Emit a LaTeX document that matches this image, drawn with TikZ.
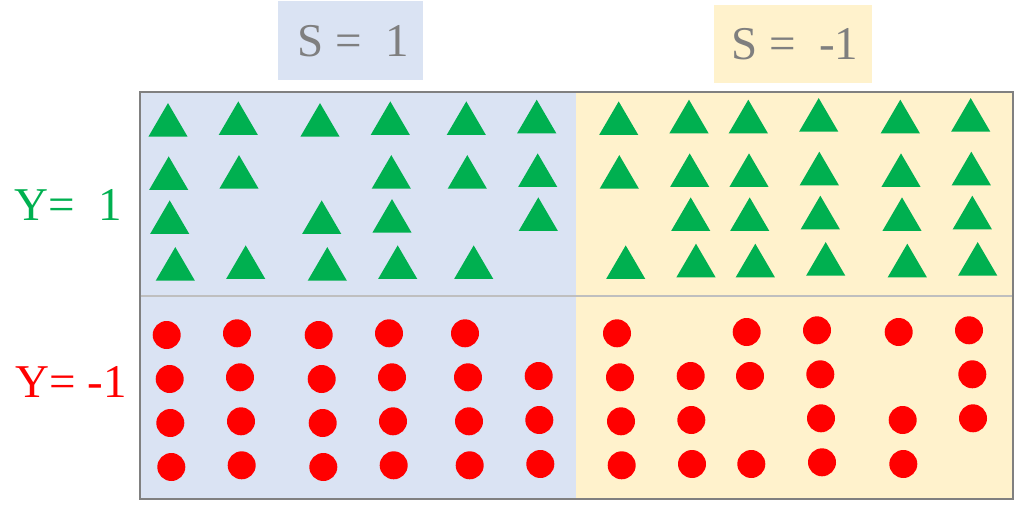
\documentclass[tikz,border=0pt]{standalone}
\usepackage{fontspec}
\setmainfont{Liberation Serif}
\definecolor{bluebg}{HTML}{DAE3F3}
\definecolor{yellowbg}{HTML}{FFF2CC}
\definecolor{tri}{HTML}{00B050}
\definecolor{dot}{HTML}{FF0000}
\definecolor{frame}{HTML}{808080}
\definecolor{divider}{HTML}{BFBFBF}
\definecolor{labelgray}{HTML}{7F7F7F}
\tikzset{
  lbl/.style={anchor=base west, inner sep=0pt, font=\fontsize{47}{52}\selectfont},
  trifill/.style={fill=tri},
  dotfill/.style={fill=dot},
}
\newcommand{\tri}[2]{\fill[trifill] (#1-19.6,#2) -- (#1+19.6,#2) -- (#1,#2-33.6) -- cycle;}
\begin{document}
\begin{tikzpicture}[x=1pt,y=-1pt]
\useasboundingbox (0,0) rectangle (1026,505);
% header boxes
\fill[bluebg] (278,1) rectangle (423,80);
\fill[yellowbg] (714,5) rectangle (872,83);
\node[lbl, text=labelgray] (s1) at (297,57) {S =\ \ 1};
\node[lbl, text=labelgray] (s2) at (731,60) {S =\ \ -1};
% side labels
\node[lbl, text=tri] (y1) at (14,220.5) {Y=\ \ 1};
\node[lbl, text=dot] (y2) at (15,397) {Y= -1};
% panels
\fill[bluebg] (140,92) rectangle (576,499);
\fill[yellowbg] (576,92) rectangle (1013,499);
\draw[divider, line width=1.5pt] (140,296) -- (1013,296);
\draw[frame, line width=2.5pt] (140,92) rectangle (1013,499);
% triangles (base centre x, base y)
\foreach \x/\y in {
 168/136.7, 238.3/135, 320/136.7, 390.3/135, 466.3/135, 536.7/133.3,
 168.7/190, 239/188.7, 391.3/188.7, 467.3/188.7, 537.7/187,
 169.7/234, 321.7/234, 392/232.7, 538.3/231,
 175.3/280.7, 245.7/279, 327.3/280.7, 397.7/279, 473.7/279,
 618.7/135, 689/133.3, 748.3/133.3, 818.7/131.7, 900.3/133.3, 970.7/131.7,
 619.3/188.7, 689.7/187, 749/187, 819.3/185.3, 901/187, 971.3/185.3,
 690.7/231, 749.7/231, 820.3/229.3, 902/231, 972.3/229.3,
 625.7/279, 696/277.3, 755.3/277.3, 825.7/275.7, 907.3/277.3, 977.7/275.7}
 {\tri{\x}{\y}}
% circles
\foreach \x/\y in {
 166.7/335, 237/333.3, 318.7/335, 389/333.3, 465/333.3,
 169.7/379, 240/377.3, 321.7/379, 392/377.3, 468/377.3, 538.7/376,
 170.3/423, 241/421.3, 322.7/423, 393/421.3, 469/421.3, 539.3/420,
 171.3/467, 241.7/465.3, 323.3/467, 393.7/465.3, 469.7/465.3, 540.3/464,
 617/333.3, 746.7/332, 817/330.3, 898.7/332, 969/330.3,
 620/377.3, 690.7/376, 750/376, 820.3/374.3, 972.3/374.3,
 621/421.3, 691.3/420, 821/418.3, 902.7/420, 973/418.3,
 621.7/465.3, 692/464, 751.3/464, 822/462.3, 903.3/464}
 {\fill[dotfill] (\x,\y) circle[radius=14];}
\end{tikzpicture}
\end{document}
